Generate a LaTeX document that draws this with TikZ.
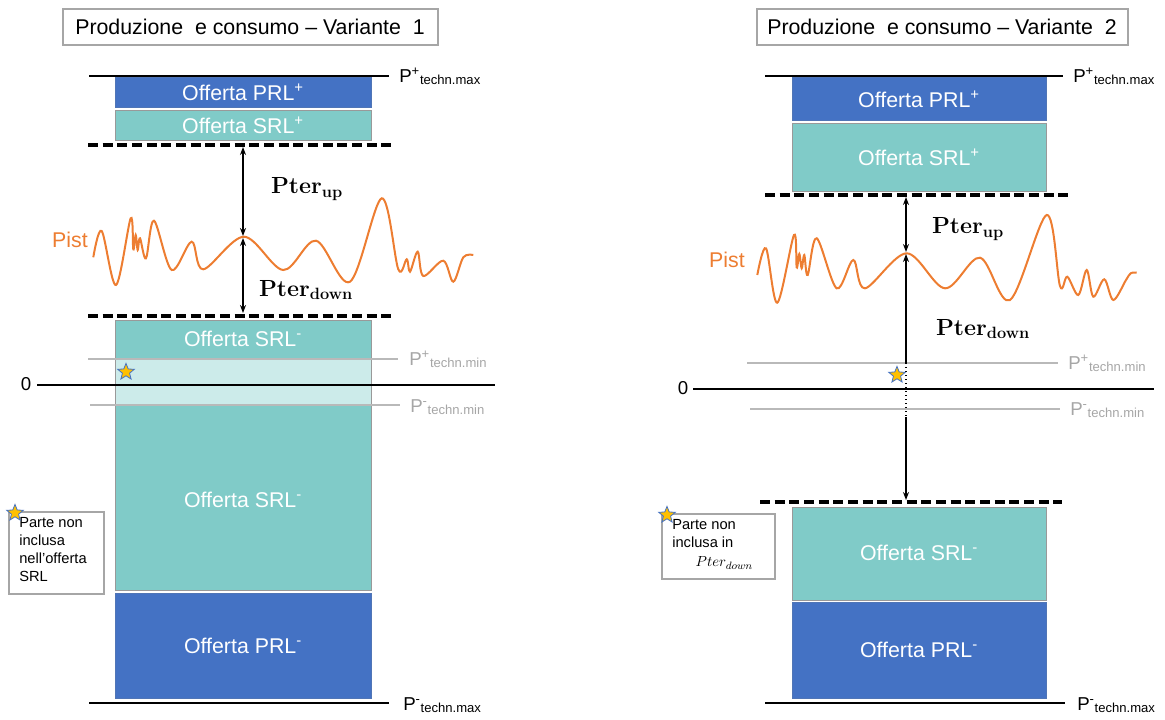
\documentclass[tikz,border=0pt]{standalone}
\usepackage{fontspec}
\setmainfont{Liberation Sans}
\newfontfamily\pterfont{Latin Modern Roman}
\usetikzlibrary{arrows.meta,fit,shapes.geometric}
\definecolor{prlblue}{HTML}{4472C4}
\definecolor{srlteal}{HTML}{80CBC8}
\definecolor{lightteal}{HTML}{CCEBEA}
\definecolor{pistor}{HTML}{ED7D31}
\definecolor{graytxt}{HTML}{A6A6A6}
\definecolor{starfill}{HTML}{FFC000}
\tikzset{
  bluebox/.style={fill=prlblue,draw=prlblue!80!gray,line width=0.5pt,inner sep=0pt},
  tealbox/.style={fill=srlteal,draw=gray!80,line width=0.5pt,inner sep=0pt},
  lightbox/.style={fill=lightteal,draw=gray!80,line width=0.5pt,inner sep=0pt},
  boxtxt/.style={text=white,inner sep=0pt,font=\fontsize{16}{18}\selectfont},
  titlebox/.style={draw=gray!70,line width=0.8pt,inner sep=0pt},
  titletxt/.style={inner sep=0pt,font=\fontsize{16}{18}\selectfont},
  lvl/.style={line width=1.5pt},
  dashlvl/.style={line width=2.6pt,dash pattern=on 7.5pt off 3.5pt},
  grayline/.style={draw=gray!55,line width=1.2pt},
  zeroline/.style={line width=1.2pt},
  lbl/.style={anchor=base west,inner sep=0pt,font=\fontsize{14}{16}\selectfont},
  graylbl/.style={lbl,text=graytxt},
  dim/.style={line width=1pt,{Stealth[length=6pt,width=4.5pt]}-{Stealth[length=6pt,width=4.5pt]}},
  pterlbl/.style={font=\pterfont\bfseries\fontsize{17.5}{20}\selectfont},
  pist/.style={draw=pistor,line width=1.5pt},
  pistlbl/.style={text=pistor,font=\fontsize{16}{18}\selectfont},
  starmark/.style={star,star points=5,star point ratio=2.3,fill=starfill,draw=prlblue,line width=0.6pt,minimum size=13pt,inner sep=0pt},
  legend/.style={draw=gray!70,line width=0.8pt,inner sep=0pt},
  legtxt/.style={anchor=north west,align=left,inner sep=0pt,font=\fontsize{11}{13.5}\selectfont}
}
\begin{document}
\begin{tikzpicture}[x=0.75pt,y=-0.75pt]
\useasboundingbox (0,0) rectangle (1165,719);

% ================= LEFT PANEL =================
\node (t1) [titlebox,fit={(63,9) (438,45)}] {};
\node (t1t) [titletxt] at (250,27) {Produzione\ \ e consumo -- Variante\ \ 1};

\coordinate (L1a) at (89,76); \coordinate (L1b) at (389,76);
\draw[lvl] (L1a) -- (L1b);
\node (L1lbl) [lbl] at (399,82) {P\textsuperscript{+}\textsubscript{techn.max}};

\node (prlp1) [bluebox,fit={(115,77) (371,107)}] {};
\node (prlp1t) [boxtxt] at (243,92) {Offerta PRL\textsuperscript{+}};
\node (srlp1) [tealbox,fit={(115,110) (371,140)}] {};
\node (srlp1t) [boxtxt] at (243,125) {Offerta SRL\textsuperscript{+}};

\coordinate (D1a) at (88,145); \coordinate (D1b) at (392,145);
\draw[dashlvl] (D1a) -- (D1b);
\coordinate (D2a) at (88,316); \coordinate (D2b) at (392,316);
\draw[dashlvl] (D2a) -- (D2b);

\node (srlm1) [tealbox,fit={(115,320) (371,590)}] {};
\node (light1) [lightbox,fit={(115,359) (371,405)}] {};
\node (srlm1a) [boxtxt] at (243,339) {Offerta SRL\textsuperscript{-}};
\node (srlm1b) [boxtxt] at (243,500) {Offerta SRL\textsuperscript{-}};
\node (prlm1) [bluebox,fit={(115,593) (371,698)}] {};
\node (prlm1t) [boxtxt] at (243,646) {Offerta PRL\textsuperscript{-}};

\coordinate (G1a) at (88,359); \coordinate (G1b) at (398,359);
\draw[grayline] (G1a) -- (G1b);
\node (G1lbl) [graylbl] at (409,365) {P\textsuperscript{+}\textsubscript{techn.min}};
\coordinate (G2a) at (90,405); \coordinate (G2b) at (400,405);
\draw[grayline] (G2a) -- (G2b);
\node (G2lbl) [graylbl] at (410,412) {P\textsuperscript{-}\textsubscript{techn.min}};

\coordinate (Z1a) at (37,385); \coordinate (Z1b) at (495,385);
\draw[zeroline] (Z1a) -- (Z1b);
\node (Z1lbl) [font=\fontsize{14}{16}\selectfont] at (26,384) {0};

\node (star1) [starmark] at (126,372) {};

\coordinate (B1a) at (89,703); \coordinate (B1b) at (389,703);
\draw[lvl] (B1a) -- (B1b);
\node (B1lbl) [lbl] at (403,710) {P\textsuperscript{-}\textsubscript{techn.max}};

\draw[pist] plot[smooth,tension=0.55] coordinates {
 (93.3,257.3) (101.7,231) (116,285) (130.7,218.3) (133.3,249.3) (135.7,235)
 (137.7,250) (140,238.3) (146,258.3) (154,220.7) (171.7,270) (191.7,241.7)
 (203.3,269.3) (244,236.7) (283.3,270) (316,240.7) (350,281.7) (381.7,198.3)
 (398.3,269.3) (406.7,259.3) (410,271.7) (417.7,251.7) (423.3,276) (443.3,260.7)
 (453.3,281.7) (463.3,257.3) (473.3,255)};
\node (pist1) [pistlbl] at (70,240) {Pist};

\coordinate (A1t) at (243,147); \coordinate (A1p) at (243,236); \coordinate (A1q) at (243,238); \coordinate (A1b) at (243,313);
\draw[dim] (A1t) -- (A1p);
\draw[dim] (A1q) -- (A1b);
\node (pu1) [pterlbl] at (307,189) {Pter\textsubscript{up}};
\node (pd1) [pterlbl] at (306,290) {Pter\textsubscript{down}};

\node (leg1) [legend,fit={(9,512) (104,594)}] {};
\node (leg1t) [legtxt] at (19,517) {Parte non\\inclusa\\nell’offerta\\SRL};
\node (star1l) [starmark] at (15,513) {};

% ================= RIGHT PANEL =================
\node (t2) [titlebox,fit={(757,9) (1128,45)}] {};
\node (t2t) [titletxt] at (942,27) {Produzione\ \ e consumo -- Variante\ \ 2};

\coordinate (L2a) at (765,76); \coordinate (L2b) at (1063,76);
\draw[lvl] (L2a) -- (L2b);
\node (L2lbl) [lbl] at (1073,82) {P\textsuperscript{+}\textsubscript{techn.max}};

\node (prlp2) [bluebox,fit={(792,77) (1046,120)}] {};
\node (prlp2t) [boxtxt] at (919,99) {Offerta PRL\textsuperscript{+}};
\node (srlp2) [tealbox,fit={(792,123) (1046,191)}] {};
\node (srlp2t) [boxtxt] at (919,157) {Offerta SRL\textsuperscript{+}};

\coordinate (D3a) at (765,195); \coordinate (D3b) at (1068,195);
\draw[dashlvl] (D3a) -- (D3b);
\coordinate (D4a) at (760,502); \coordinate (D4b) at (1062,502);
\draw[dashlvl] (D4a) -- (D4b);

\coordinate (G3a) at (747,363); \coordinate (G3b) at (1058,363);
\draw[grayline] (G3a) -- (G3b);
\node (G3lbl) [graylbl] at (1068,369) {P\textsuperscript{+}\textsubscript{techn.min}};
\coordinate (G4a) at (750,409); \coordinate (G4b) at (1060,409);
\draw[grayline] (G4a) -- (G4b);
\node (G4lbl) [graylbl] at (1070,415) {P\textsuperscript{-}\textsubscript{techn.min}};

\coordinate (Z2a) at (693,389); \coordinate (Z2b) at (1154,389);
\draw[zeroline] (Z2a) -- (Z2b);
\node (Z2lbl) [font=\fontsize{14}{16}\selectfont] at (683,388) {0};

\node (srlm2) [tealbox,fit={(792,507) (1046,600)}] {};
\node (srlm2t) [boxtxt] at (919,553) {Offerta SRL\textsuperscript{-}};
\node (prlm2) [bluebox,fit={(792,602) (1046,698)}] {};
\node (prlm2t) [boxtxt] at (919,650) {Offerta PRL\textsuperscript{-}};

\coordinate (B2a) at (765,703); \coordinate (B2b) at (1065,703);
\draw[lvl] (B2a) -- (B2b);
\node (B2lbl) [lbl] at (1077,710) {P\textsuperscript{-}\textsubscript{techn.max}};

\draw[pist] plot[smooth,tension=0.55] coordinates {
 (757.3,275) (766,248.3) (777.3,302.7) (794,235) (796.7,267.3) (799.3,254)
 (801.7,268.3) (804.3,255) (807.7,275) (816.7,238.3) (836.7,288.3) (853.3,260)
 (865,288.3) (906.7,253.3) (945,288.3) (980,257.7) (1010,300) (1046.7,215)
 (1060,286) (1067.3,276.7) (1078.3,295) (1086.7,270) (1093.3,296.7) (1104.3,279.3)
 (1113.3,300) (1126,280) (1130.7,273.3) (1136.7,272.7)};
\node (pist2) [pistlbl] at (727,260) {Pist};

\coordinate (A2t) at (906,197); \coordinate (A2p) at (906,252); \coordinate (A2q) at (906,254);
\coordinate (A2m) at (906,363); \coordinate (A2n) at (906,417); \coordinate (A2b) at (906,500);
\draw[dim] (A2t) -- (A2p);
\draw[line width=1pt,{Stealth[length=6pt,width=4.5pt]}-] (A2q) -- (A2m);
\draw[line width=1pt,dotted] (A2m) -- (A2n);
\draw[line width=1pt,-{Stealth[length=6pt,width=4.5pt]}] (A2n) -- (A2b);
\node (pu2) [pterlbl] at (968,229) {Pter\textsubscript{up}};
\node (pd2) [pterlbl] at (983,329) {Pter\textsubscript{down}};

\node (star2) [starmark] at (897,375) {};

\node (leg2) [legend,fit={(662,514) (775,579)}] {};
\node (leg2t) [legtxt] at (672,519) {Parte non\\inclusa in\\[1pt]\hspace*{1.6em}$Pter_{down}$};
\node (star2l) [starmark] at (667,515) {};
\end{tikzpicture}
\end{document}
